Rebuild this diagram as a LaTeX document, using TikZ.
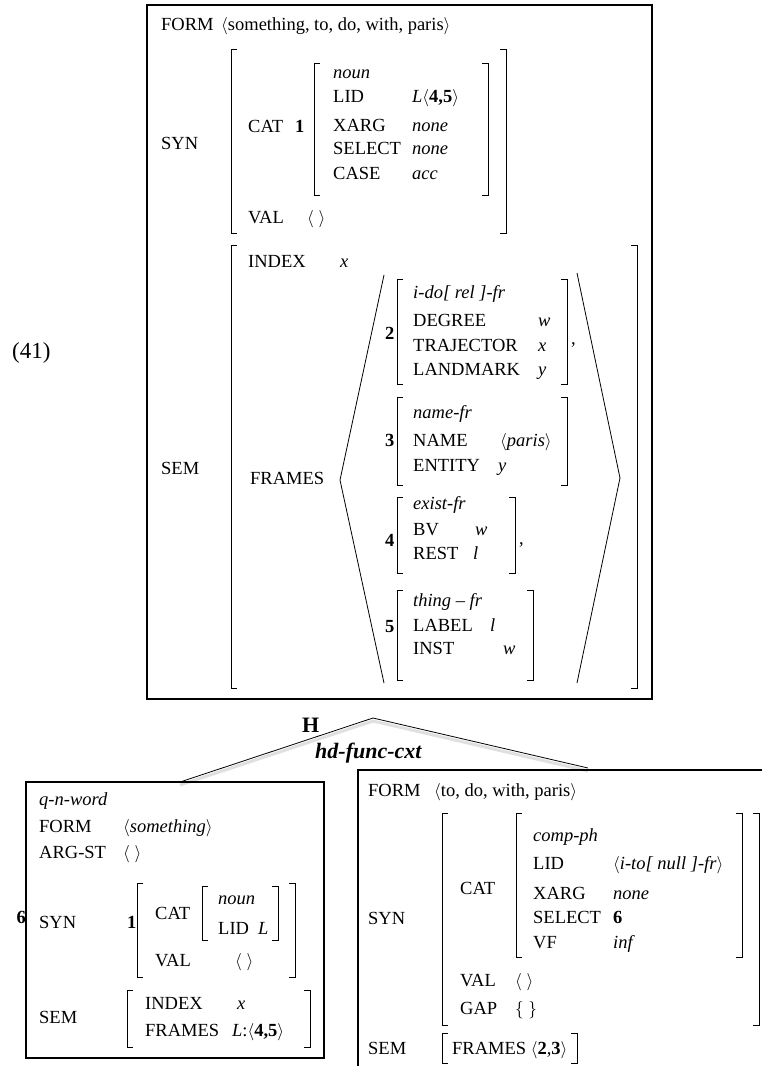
\documentclass[tikz,border=0pt]{standalone}
\usepackage{fontspec}
\setmainfont{Liberation Serif}
\usepackage{tikz}

\begin{document}
\begin{tikzpicture}[
  x=1pt, y=-1pt,
  font=\fontsize{18.5}{22}\selectfont,
  feat/.style={anchor=west, inner sep=0pt, text height=14pt, text depth=2pt},
  tpv/.style={feat, font=\fontsize{18.5}{22}\selectfont\itshape},
  tag/.style={feat, font=\fontsize{18.5}{22}\selectfont\bfseries},
  box/.style={line width=1.2pt},
  brk/.style={line width=0.8pt},
  branch/.style={line width=0.8pt},
  shade/.style={line width=3pt, black!12}
]
\useasboundingbox (0,0) rectangle (762,1066);

% mother
\node[feat, font=\fontsize{23}{26}\selectfont] (exno) at (12,352) {(41)};
\draw[box] (147,5) rectangle (652,699);

\node[feat] (form) at (161,24) {FORM};
\node[feat] (formv) at (221,24) {$\langle$something, to, do, with, paris$\rangle$};

\node[feat] (syn) at (161,143) {SYN};
\node[feat] (cat) at (248,126) {CAT};
\node[tag] (t1) at (295,126) {1};
\node[tpv] (noun) at (333,72) {noun};
\node[feat] (lid) at (333,96) {LID};
\node[feat] (lidv) at (412,96) {\textit{L}$\langle$\textbf{4,5}$\rangle$};
\node[feat] (xarg) at (333,125) {XARG};
\node[tpv] (xargv) at (412,125) {none};
\node[feat] (select) at (333,148) {SELECT};
\node[tpv] (selectv) at (412,148) {none};
\node[feat] (case) at (333,173) {CASE};
\node[tpv] (casev) at (412,173) {acc};
\node[feat] (val) at (248,217) {VAL};
\node[feat] (valv) at (307,217) {$\langle\ \rangle$};

\node[feat] (sem) at (161,468) {SEM};
\node[feat] (index) at (248,261) {INDEX};
\node[tpv] (indexv) at (340,261) {x};
\node[feat] (frames) at (250,478) {FRAMES};

\node[tag] (t2) at (385,333) {2};
\node[tpv] (ido) at (413,292) {i-do[ rel ]-fr};
\node[feat] (degree) at (413,320) {DEGREE};
\node[tpv] (degreev) at (538,320) {w};
\node[feat] (traj) at (413,345) {TRAJECTOR};
\node[tpv] (trajv) at (538,345) {x};
\node[feat] (land) at (413,369) {LANDMARK};
\node[tpv] (landv) at (538,369) {y};
\node[feat] (comma2) at (571,338) {,};

\node[tag] (t3) at (385,440) {3};
\node[tpv] (namefr) at (413,412) {name-fr};
\node[feat] (name) at (413,440) {NAME};
\node[feat] (namev) at (500,440) {$\langle$\textit{paris}$\rangle$};
\node[feat] (entity) at (413,465) {ENTITY};
\node[tpv] (entityv) at (498,465) {y};

\node[tag] (t4) at (385,540) {4};
\node[tpv] (existfr) at (413,503) {exist-fr};
\node[feat] (bv) at (413,529) {BV};
\node[tpv] (bvv) at (475,529) {w};
\node[feat] (rest) at (413,553) {REST};
\node[tpv] (restv) at (473,553) {l};
\node[feat] (comma4) at (519,538) {,};

\node[tag] (t5) at (385,626) {5};
\node[feat] (thingfr) at (413,600) {\textit{thing} -- \textit{fr}};
\node[feat] (label) at (413,625) {LABEL};
\node[tpv] (labelv) at (490,625) {l};
\node[feat] (inst) at (413,648) {INST};
\node[tpv] (instv) at (503,648) {w};

% brackets: x / top / bottom
\foreach \x/\t/\b in {231/49/233, 314/63/195, 231/245/688, 397/279/384,
    397/397/485, 397/497/573, 397/590/680,
    137/883/977, 202/886/940, 127/990/1047,
    442/813/1025, 516/813/957, 442/1033/1063}
  \draw[brk] (\x+6,\t) -- (\x,\t) -- (\x,\b) -- (\x+6,\b);
\foreach \x/\t/\b in {506/49/233, 488/63/195, 637/245/688, 567/279/384,
    567/397/485, 515/497/573, 533/590/680,
    295/883/977, 278/886/940, 310/990/1047,
    759/813/1025, 742/813/957, 577/1033/1063}
  \draw[brk] (\x-6,\t) -- (\x,\t) -- (\x,\b) -- (\x-6,\b);

\draw[brk] (384,275) -- (340,480) -- (384,683);
\draw[brk] (577,273) -- (620,478) -- (577,683);

% construction
\coordinate (apex) at (373,718);
\coordinate (hd) at (180,782);
\coordinate (fn) at (588,768);
\draw[shade] ([yshift=-3pt]apex) -- ([yshift=-3pt]hd);
\draw[shade] ([yshift=-3pt]apex) -- ([yshift=-3pt]fn);
\draw[branch] (hd) -- (apex) -- (fn);
\node[feat, font=\fontsize{22}{25}\selectfont\bfseries] (headmark) at (302,726) {H};
\node[feat, font=\fontsize{22}{25}\selectfont\bfseries\itshape] (cxt) at (315,752) {hd-func-cxt};

% head daughter
\draw[box] (26,782) rectangle (324,1058);
\node[tag, anchor=east] (t6) at (26,917) {6};
\node[tpv] (qnword) at (39,799) {q-n-word};
\node[feat] (dform) at (39,826) {FORM};
\node[feat] (dformv) at (123,826) {$\langle$\textit{something}$\rangle$};
\node[feat] (argst) at (39,852) {ARG-ST};
\node[feat] (argstv) at (123,852) {$\langle\ \rangle$};
\node[feat] (dsyn) at (39,922) {SYN};
\node[tag] (dt1) at (127,922) {1};
\node[feat] (dcat) at (155,913) {CAT};
\node[tpv] (dnoun) at (218,898) {noun};
\node[feat] (dlid) at (218,928) {LID};
\node[tpv] (dlidv) at (258,928) {L};
\node[feat] (dval) at (155,960) {VAL};
\node[feat] (dvalv) at (235,960) {$\langle\ \rangle$};
\node[feat] (dsem) at (39,1017) {SEM};
\node[feat] (dindex) at (145,1003) {INDEX};
\node[tpv] (dindexv) at (237,1003) {x};
\node[feat] (dframes) at (145,1030) {FRAMES};
\node[feat] (dframesv) at (232,1030) {\textit{L}:$\langle$\textbf{4,5}$\rangle$};

% functor daughter
\draw[box] (762,770) -- (358,770) -- (358,1066);
\node[feat] (fform) at (368,790) {FORM};
\node[feat] (fformv) at (434,790) {$\langle$to, do, with, paris$\rangle$};
\node[feat] (fsyn) at (368,918) {SYN};
\node[feat] (fcat) at (460,888) {CAT};
\node[tpv] (compph) at (533,835) {comp-ph};
\node[feat] (flid) at (533,863) {LID};
\node[feat] (flidv) at (613,863) {$\langle$\textit{i-to[ null ]-fr}$\rangle$};
\node[feat] (fxarg) at (533,893) {XARG};
\node[tpv] (fxargv) at (613,893) {none};
\node[feat] (fselect) at (533,917) {SELECT};
\node[tag] (fselectv) at (613,917) {6};
\node[feat] (fvf) at (533,942) {VF};
\node[tpv] (fvfv) at (613,942) {inf};
\node[feat] (fval) at (460,980) {VAL};
\node[feat] (fvalv) at (515,980) {$\langle\ \rangle$};
\node[feat] (fgap) at (460,1008) {GAP};
\node[feat] (fgapv) at (515,1008) {$\{\ \}$};
\node[feat] (fsem) at (368,1048) {SEM};
\node[feat] (fframes) at (452,1048) {FRAMES $\langle$\textbf{2},\textbf{3}$\rangle$};

\end{tikzpicture}
\end{document}
